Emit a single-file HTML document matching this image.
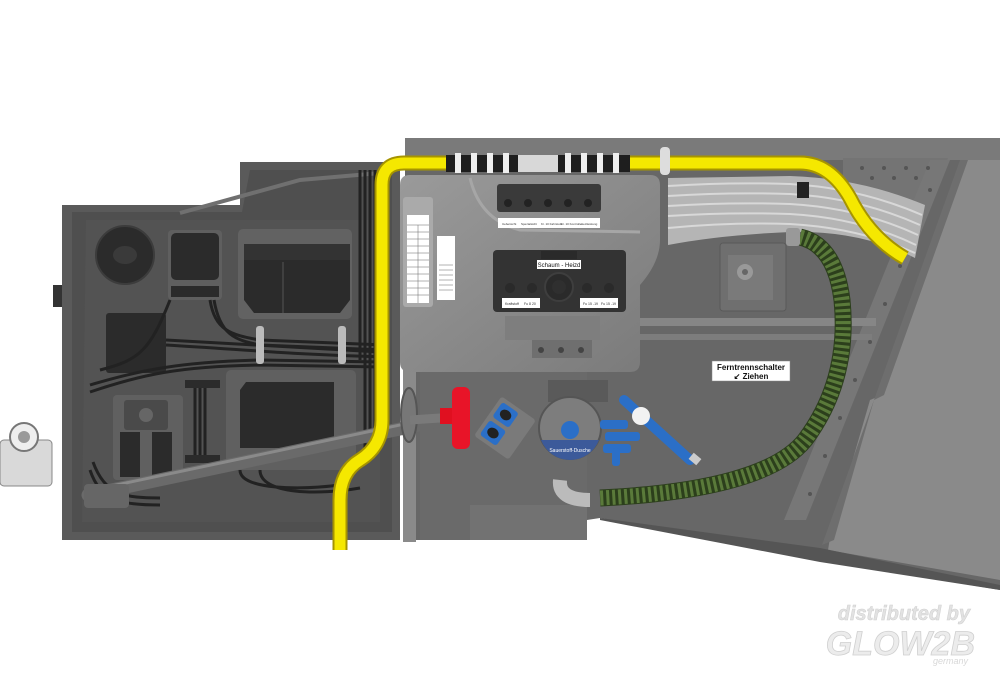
<!DOCTYPE html>
<html><head><meta charset="utf-8"><style>
html,body{margin:0;padding:0;background:#fff;}
svg{display:block;}
</style></head><body>
<svg width="1000" height="692" viewBox="0 0 1000 692" xmlns="http://www.w3.org/2000/svg" font-family="Liberation Sans, sans-serif">
<defs>
<linearGradient id="box" x1="0" y1="0" x2="1" y2="1"><stop offset="0" stop-color="#9a9a9a"/><stop offset="1" stop-color="#7a7a7a"/></linearGradient>
</defs>
<rect width="1000" height="692" fill="#fff"/>

<!-- left latch thing -->
<rect x="62" y="238" width="12" height="20" fill="#bfe0b5"/>
<rect x="53" y="285" width="9" height="22" fill="#333"/>
<rect x="0" y="440" width="52" height="46" rx="4" fill="#d9d9d9" stroke="#888"/>
<circle cx="24" cy="437" r="14" fill="#eee" stroke="#777" stroke-width="2"/>
<circle cx="24" cy="437" r="6" fill="#999"/>

<!-- right big plate -->
<polygon points="405,138 1000,138 1000,590 820,560 600,518 587,520 587,540 420,540 405,540" fill="#676767"/>
<polygon points="405,138 1000,138 1000,160 405,160" fill="#7a7a7a"/>
<polygon points="843,158 948,158 926,215 843,215" fill="#747474"/>
<polygon points="930,160 950,160 806,520 784,520" fill="#777"/>
<polygon points="965,160 1000,160 1000,580 828,550 830,538 870,400 882,395" fill="#8a8a8a"/>
<polygon points="960,160 968,160 884,395 874,400 834,540 822,545" fill="#6e6e6e"/>
<polygon points="600,518 820,548 1000,585 1000,590 820,562 600,520" fill="#555"/>
<g fill="#555">
<circle cx="930" cy="190" r="2"/><circle cx="915" cy="228" r="2"/><circle cx="900" cy="266" r="2"/><circle cx="885" cy="304" r="2"/><circle cx="870" cy="342" r="2"/><circle cx="855" cy="380" r="2"/><circle cx="840" cy="418" r="2"/><circle cx="825" cy="456" r="2"/><circle cx="810" cy="494" r="2"/>
<circle cx="862" cy="168" r="2"/><circle cx="884" cy="168" r="2"/><circle cx="906" cy="168" r="2"/><circle cx="928" cy="168" r="2"/><circle cx="872" cy="178" r="2"/><circle cx="894" cy="178" r="2"/><circle cx="916" cy="178" r="2"/>
</g>
<rect x="640" y="318" width="236" height="8" fill="#868686"/>
<rect x="640" y="334" width="232" height="6" fill="#7d7d7d"/>
<rect x="420" y="370" width="167" height="170" fill="#6a6a6a"/>
<rect x="470" y="505" width="117" height="35" fill="#727272"/>
<rect x="403" y="360" width="13" height="182" fill="#8a8a8a"/>

<!-- left panel -->
<polygon points="72,205 240,205 240,162 400,162 400,540 62,540 62,205" fill="#5a5a5a"/>
<polygon points="80,212 242,212 250,170 392,170 392,532 72,532 72,212" fill="#4f4f4f"/>
<polygon points="86,220 380,220 380,522 82,522" fill="#535353"/>
<polyline points="180,213 300,180 392,172" fill="none" stroke="#707070" stroke-width="4"/>
<rect x="238" y="229" width="114" height="90" rx="5" fill="#626262"/>
<polygon points="244,244 350,244 350,300 340,313 254,313 244,300" fill="#2b2b2b"/>
<rect x="244" y="244" width="106" height="16" fill="#333"/>
<line x1="283" y1="262" x2="283" y2="313" stroke="#555"/>
<circle cx="125" cy="255" r="29" fill="#2b2b2b" stroke="#3c3c3c" stroke-width="2"/>
<ellipse cx="125" cy="255" rx="12" ry="9" fill="#3a3a3a"/>
<rect x="168" y="230" width="54" height="70" rx="4" fill="#5f5f5f"/>
<rect x="171" y="233" width="48" height="47" rx="5" fill="#2b2b2b"/>
<rect x="171" y="286" width="48" height="11" fill="#2b2b2b"/>
<rect x="106" y="313" width="60" height="60" rx="3" fill="#2b2b2b"/>
<rect x="226" y="370" width="130" height="100" rx="5" fill="#606060"/>
<polygon points="246,382 334,382 334,448 240,448 240,390" fill="#2b2b2b"/>
<rect x="113" y="395" width="70" height="85" rx="4" fill="#606060"/>
<rect x="124" y="400" width="44" height="30" rx="3" fill="#4a4a4a"/>
<circle cx="146" cy="415" r="7" fill="#666"/>
<rect x="120" y="432" width="20" height="45" fill="#2b2b2b"/>
<rect x="152" y="432" width="20" height="45" fill="#2b2b2b"/>
<g fill="none" stroke="#222" stroke-width="3">
<path d="M210,300 C215,330 230,335 260,340 L385,345"/>
<path d="M214,300 C220,335 235,340 260,345 L385,350"/>
<path d="M166,340 L380,352"/>
<path d="M166,345 C250,350 300,355 385,357"/>
<path d="M90,385 C140,370 180,362 260,360 L385,362"/>
<path d="M90,392 C140,375 180,366 260,365 L385,367"/>
<path d="M90,470 C100,500 120,505 160,505"/>
<path d="M93,462 C105,495 125,498 160,498"/>
<path d="M370,170 L370,450"/><path d="M375,170 L375,450"/><path d="M365,170 L365,450"/><path d="M360,170 L360,360"/>
<path d="M200,380 L200,460"/><path d="M205,380 L205,460"/><path d="M195,380 L195,460"/>
<path d="M170,300 C150,350 140,360 100,370"/>
<path d="M240,470 C240,490 300,490 340,485"/>
<path d="M260,470 C260,495 320,495 360,488"/>
</g>
<rect x="256" y="326" width="8" height="38" rx="3" fill="#bbb"/>
<rect x="338" y="326" width="8" height="38" rx="3" fill="#bbb"/>
<rect x="185" y="380" width="35" height="8" fill="#2b2b2b"/>
<rect x="185" y="455" width="35" height="8" fill="#2b2b2b"/>

<!-- rod -->
<line x1="88" y1="495" x2="452" y2="418" stroke="#6a6a6a" stroke-width="13" stroke-linecap="round"/>
<line x1="88" y1="491" x2="452" y2="414" stroke="#8a8a8a" stroke-width="3"/>
<rect x="84" y="484" width="45" height="24" rx="4" fill="#666"/>
<ellipse cx="409" cy="415" rx="8" ry="27" fill="#777" stroke="#555" stroke-width="2"/>

<!-- yellow pipe -->
<path d="M340,550 L340,500 Q340,472 360,460 Q382,446 382,420 L382,185 Q382,163 404,163 L800,163 Q830,163 850,198 Q870,238 905,258" fill="none" stroke="#a69400" stroke-width="15"/>
<path d="M340,550 L340,500 Q340,472 360,460 Q382,446 382,420 L382,185 Q382,163 404,163 L800,163 Q830,163 850,198 Q870,238 905,258" fill="none" stroke="#f5e800" stroke-width="11"/>

<!-- control box -->
<path d="M400,185 Q400,175 410,175 L650,175 Q660,175 660,185 L660,240 Q660,262 640,285 L640,362 Q640,372 630,372 L410,372 Q400,372 400,362 Z" fill="url(#box)"/>
<path d="M470,178 Q480,220 520,230 L640,232" fill="none" stroke="#a6a6a6" stroke-width="3"/>
<rect x="497" y="184" width="104" height="28" rx="3" fill="#3a3a3a"/>
<g fill="#222"><circle cx="508" cy="203" r="4"/><circle cx="528" cy="203" r="4"/><circle cx="548" cy="203" r="4"/><circle cx="568" cy="203" r="4"/><circle cx="588" cy="203" r="4"/></g>
<rect x="498" y="218" width="102" height="10" fill="#fff"/>
<g font-size="3" fill="#333"><text x="502" y="225">Uebersicht</text><text x="521" y="225">Spezialsicht</text><text x="541" y="225">Kr. 10 Fahrstufe</text><text x="561" y="225">Kr. 10 Kontrolle</text><text x="581" y="225">Heizleistung</text></g>
<rect x="493" y="250" width="133" height="62" rx="4" fill="#333"/>
<rect x="541" y="251" width="36" height="8" fill="#2a2a2a"/>
<rect x="537" y="260" width="44" height="9" fill="#fff"/>
<text x="559" y="267" font-size="6" text-anchor="middle" fill="#111">Schaum - Heizd</text>
<circle cx="559" cy="287" r="14" fill="#2a2a2a" stroke="#3e3e3e" stroke-width="2"/>
<circle cx="559" cy="287" r="7" fill="#2f2f2f"/>
<g fill="#2a2a2a"><circle cx="510" cy="288" r="5"/><circle cx="532" cy="288" r="5"/><circle cx="587" cy="288" r="5"/><circle cx="609" cy="288" r="5"/></g>
<rect x="502" y="298" width="38" height="10" fill="#fff"/>
<rect x="580" y="298" width="38" height="10" fill="#fff"/>
<g font-size="3.5" fill="#333"><text x="505" y="305">Kraftstoff</text><text x="524" y="305">Fu 8 20</text><text x="583" y="305">Fu 15 -19</text><text x="601" y="305">Fu 15 -19</text></g>
<rect x="403" y="197" width="30" height="110" rx="3" fill="#aaa"/>
<rect x="407" y="215" width="22" height="88" fill="#fff"/>
<g stroke="#666" stroke-width="0.5">
<line x1="407" y1="225" x2="429" y2="225"/><line x1="407" y1="232" x2="429" y2="232"/><line x1="407" y1="239" x2="429" y2="239"/><line x1="407" y1="246" x2="429" y2="246"/><line x1="407" y1="253" x2="429" y2="253"/><line x1="407" y1="260" x2="429" y2="260"/><line x1="407" y1="267" x2="429" y2="267"/><line x1="407" y1="274" x2="429" y2="274"/><line x1="407" y1="281" x2="429" y2="281"/><line x1="407" y1="288" x2="429" y2="288"/><line x1="407" y1="295" x2="429" y2="295"/><line x1="418" y1="225" x2="418" y2="303"/>
</g>
<rect x="437" y="236" width="18" height="64" fill="#fff"/>
<g stroke="#666" stroke-width="0.5"><line x1="439" y1="265" x2="453" y2="265"/><line x1="439" y1="270" x2="453" y2="270"/><line x1="439" y1="275" x2="453" y2="275"/><line x1="439" y1="280" x2="453" y2="280"/><line x1="439" y1="285" x2="453" y2="285"/><line x1="439" y1="290" x2="453" y2="290"/></g>
<rect x="505" y="316" width="95" height="24" fill="#7e7e7e"/>
<rect x="532" y="340" width="60" height="18" fill="#6f6f6f"/>
<g fill="#444"><circle cx="541" cy="350" r="3"/><circle cx="561" cy="350" r="3"/><circle cx="581" cy="350" r="3"/></g>

<!-- sleeve -->
<rect x="446" y="155" width="184" height="17" fill="#1e1e1e"/>
<rect x="518" y="155" width="40" height="17" fill="#d8d8d8"/>
<g fill="#eee">
<rect x="455" y="153" width="6" height="20"/><rect x="471" y="153" width="6" height="20"/><rect x="487" y="153" width="6" height="20"/><rect x="503" y="153" width="6" height="20"/>
<rect x="565" y="153" width="6" height="20"/><rect x="581" y="153" width="6" height="20"/><rect x="597" y="153" width="6" height="20"/><rect x="613" y="153" width="6" height="20"/>
</g>
<rect x="660" y="147" width="10" height="28" rx="4" fill="#ddd"/>

<!-- silver cable bundle -->
<path d="M668,178 L790,176 Q860,178 925,205 L915,258 Q860,230 790,232 Q720,235 668,245 Z" fill="#b5b5b5"/>
<g stroke="#d8d8d8" stroke-width="2" fill="none">
<path d="M668,186 Q730,182 790,184 Q860,188 922,215"/><path d="M668,196 Q730,192 790,194 Q860,198 920,225"/><path d="M668,206 Q730,202 790,204 Q860,208 918,235"/><path d="M668,216 Q730,212 790,214 Q860,218 916,245"/><path d="M668,228 Q730,222 790,224 Q860,228 915,253"/>
</g>
<rect x="797" y="182" width="12" height="16" fill="#222"/>
<path d="M800,163 Q830,163 850,198 Q870,238 905,258" fill="none" stroke="#a69400" stroke-width="15"/>
<path d="M800,163 Q830,163 850,198 Q870,238 905,258" fill="none" stroke="#f5e800" stroke-width="11"/>

<!-- bracket -->
<rect x="720" y="243" width="66" height="68" rx="3" fill="#6f6f6f" stroke="#5a5a5a"/>
<rect x="728" y="255" width="45" height="45" fill="#7a7a7a"/>
<circle cx="745" cy="272" r="8" fill="#999"/><circle cx="745" cy="272" r="3" fill="#666"/>

<!-- green hose -->
<path d="M800,237 Q835,245 842,300 Q850,380 805,440 Q765,490 600,498" fill="none" stroke="#2c3f1c" stroke-width="17"/>
<path d="M800,237 Q835,245 842,300 Q850,380 805,440 Q765,490 600,498" fill="none" stroke="#5a7a3a" stroke-width="15" stroke-dasharray="3 3"/>
<rect x="786" y="228" width="14" height="18" rx="3" fill="#999"/>
<path d="M560,480 Q558,500 590,500" fill="none" stroke="#bbb" stroke-width="14"/>

<!-- regulator & blue parts -->
<rect x="548" y="380" width="60" height="22" fill="#5a5a5a"/>
<circle cx="570" cy="428" r="31" fill="#7d7d7d" stroke="#555" stroke-width="2"/>
<path d="M541,440 A31,31 0 0 0 599,440 Z" fill="#3c5a9a"/>
<circle cx="570" cy="430" r="9" fill="#2b6fc7"/>
<text x="570" y="452" font-size="5" text-anchor="middle" fill="#fff">Sauerstoff-Dusche</text>
<g fill="#2b6fc7">
<rect x="600" y="420" width="28" height="9" rx="3"/><rect x="605" y="432" width="35" height="9" rx="3"/><rect x="603" y="444" width="28" height="9" rx="3"/>
<rect x="612" y="448" width="8" height="18" rx="3"/>
</g>
<path d="M624,400 L690,460" stroke="#2b6fc7" stroke-width="10" stroke-linecap="round"/>
<circle cx="641" cy="416" r="9" fill="#f2f2f2"/>
<rect x="690" y="455" width="10" height="8" fill="#ccc" transform="rotate(40 695 459)"/>
<g transform="rotate(35 505 428)">
<rect x="484" y="404" width="42" height="48" rx="3" fill="#7a7a7a"/>
<rect x="488" y="408" width="20" height="18" rx="3" fill="#2b6fc7"/><ellipse cx="498" cy="417" rx="6" ry="5" fill="#222"/>
<rect x="488" y="430" width="20" height="18" rx="3" fill="#2b6fc7"/><ellipse cx="498" cy="439" rx="6" ry="5" fill="#222"/>
</g>

<!-- red handle -->
<line x1="410" y1="420" x2="455" y2="417" stroke="#7a7a7a" stroke-width="9"/>
<rect x="440" y="408" width="12" height="16" fill="#e01020"/>
<rect x="452" y="387" width="18" height="62" rx="6" fill="#e81428"/>

<!-- label -->
<rect x="712" y="361" width="78" height="20" fill="#fff" stroke="#888" stroke-width="0.5"/>
<text x="751" y="370" font-size="8" font-weight="bold" text-anchor="middle" fill="#111">Ferntrennschalter</text>
<text x="751" y="379" font-size="8" font-weight="bold" text-anchor="middle" fill="#111">↙  Ziehen</text>

<!-- watermark -->
<text x="970" y="620" font-size="20" font-style="italic" font-weight="bold" text-anchor="end" fill="#e2e2e2" stroke="#cfcfcf" stroke-width="0.5">distributed by</text>
<text x="975" y="655" font-size="34" font-style="italic" font-weight="bold" text-anchor="end" fill="#ececec" stroke="#d0d0d0" stroke-width="0.8">GLOW2B</text>
<text x="968" y="664" font-size="9" font-style="italic" text-anchor="end" fill="#d8d8d8">germany</text>
</svg>
</body></html>
